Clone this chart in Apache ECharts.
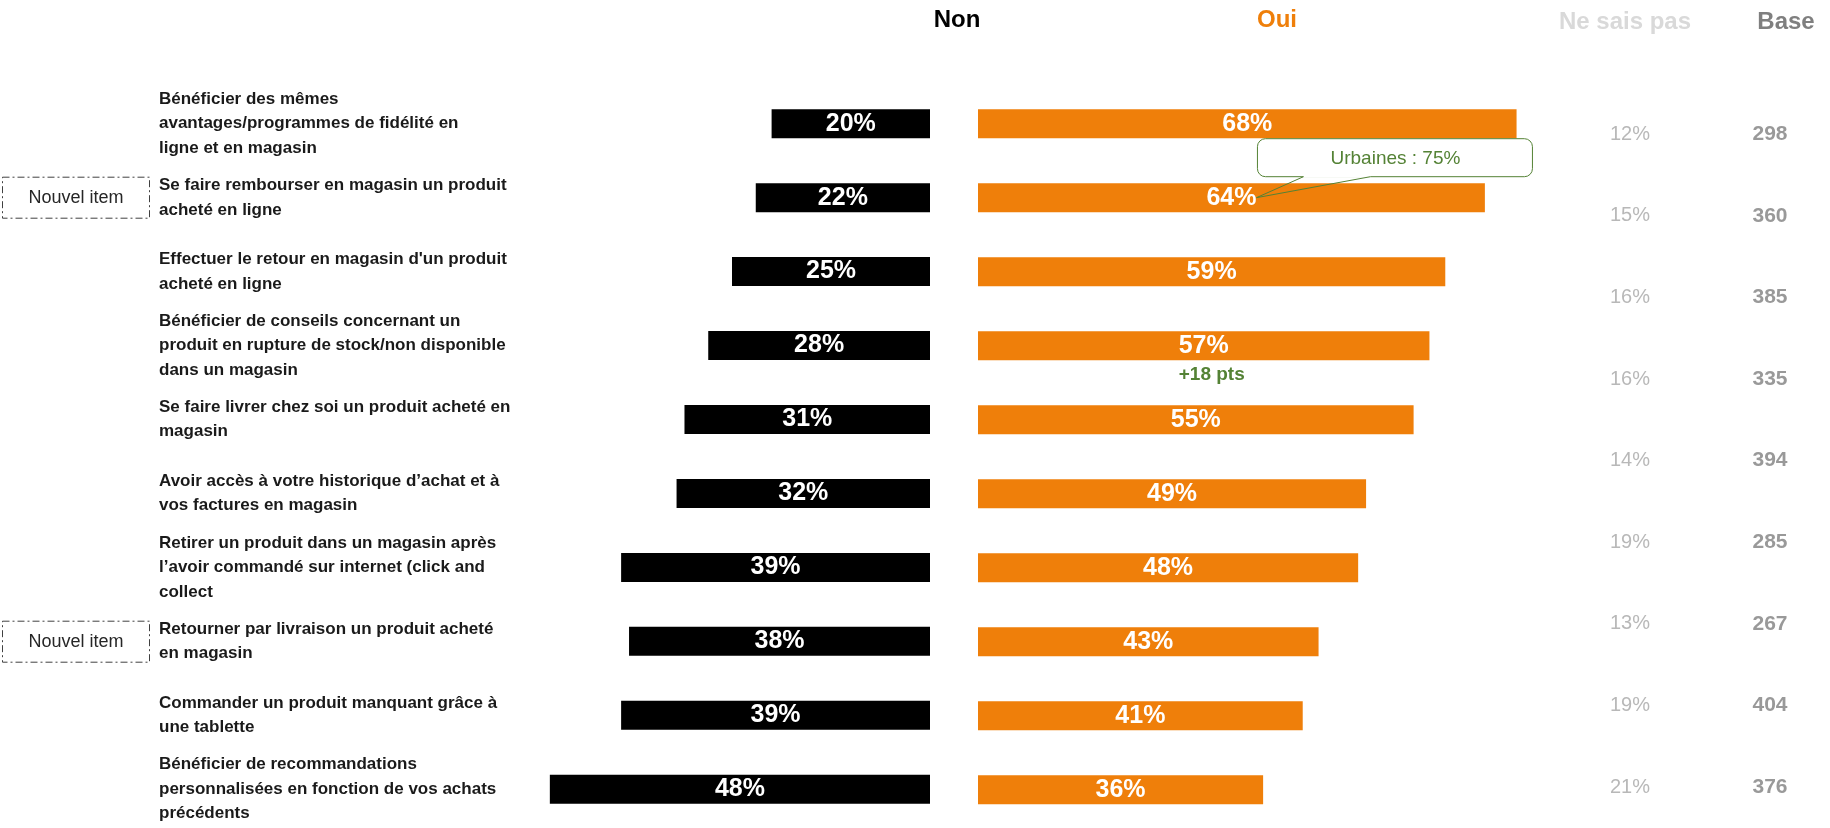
<!DOCTYPE html>
<html><head><meta charset="utf-8">
<script src="https://cdn.jsdelivr.net/npm/echarts@6/dist/echarts.min.js"></script>
<style>html,body{margin:0;padding:0;background:#fff}#c{width:1830px;height:828px}</style>
</head><body><div id="c"></div>
<script>
const categories = [
  "Bénéficier des mêmes\navantages/programmes de fidélité en\nligne et en magasin",
  "Se faire rembourser en magasin un produit\nacheté en ligne",
  "Effectuer le retour en magasin d'un produit\nacheté en ligne",
  "Bénéficier de conseils concernant un\nproduit en rupture de stock/non disponible\ndans un magasin",
  "Se faire livrer chez soi un produit acheté en\nmagasin",
  "Avoir accès à votre historique d’achat et à\nvos factures en magasin",
  "Retirer un produit dans un magasin après\nl’avoir commandé sur internet (click and\ncollect",
  "Retourner par livraison un produit acheté\nen magasin",
  "Commander un produit manquant grâce à\nune tablette",
  "Bénéficier de recommandations\npersonnalisées en fonction de vos achats\nprécédents"
];
const nonValues = [20, 22, 25, 28, 31, 32, 39, 38, 39, 48];
const ouiValues = [68, 64, 59, 57, 55, 49, 48, 43, 41, 36];
const nspValues = [12, 15, 16, 16, 14, 19, 13, 19, 21];
const baseValues = [298, 360, 385, 335, 394, 285, 267, 404, 376];
const headers = ["Non", "Oui", "Ne sais pas", "Base"];
const newItemRows = [1, 7];
const newItemLabel = "Nouvel item";
const calloutRow = 1, calloutText = "Urbaines : 75%";
const deltaRow = 3, deltaText = "+18 pts";

const FONT = '"Liberation Sans", Arial, sans-serif';
const ORANGE = '#EF7F0A';
const GREEN = '#548235';
const PX = 7.92;
const nonMax = 60, ouiMax = 80;
const nonRight = 930, ouiLeft = 978;
const rowTop = 86.7, rowBand = 74;
const labelLeft = 159;

const chart = echarts.init(document.getElementById('c'));
const nonLeft = nonRight - nonMax * PX;
const barLabel = {show: true, position: 'inside', formatter: '{c}%', color: '#fff', fontSize: 25, fontWeight: 'bold', fontFamily: FONT};
const option = {
  animation: false,
  textStyle: {fontFamily: FONT},
  grid: [
    {left: nonLeft, width: nonMax * PX, top: rowTop, height: rowBand * categories.length},
    {left: ouiLeft, width: ouiMax * PX, top: rowTop, height: rowBand * categories.length},
    {left: 1630, width: 140, top: 93.4, height: 83.1 * nspValues.length}
  ],
  xAxis: [
    {gridIndex: 0, type: 'value', min: 0, max: nonMax, inverse: true, show: false},
    {gridIndex: 1, type: 'value', min: 0, max: ouiMax, show: false},
    {gridIndex: 2, type: 'value', min: 0, max: 1, show: false}
  ],
  yAxis: [
    {gridIndex: 0, type: 'category', data: categories, inverse: true, position: 'left',
     axisLine: {show: false, onZero: false}, axisTick: {show: false}, splitLine: {show: false},
     axisLabel: {align: 'left', margin: nonLeft - labelLeft, fontSize: 17, fontWeight: 'bold',
       color: '#1a1a1a', lineHeight: 24.5, padding: [4, 0, 0, 0], fontFamily: FONT}},
    {gridIndex: 1, type: 'category', data: categories, inverse: true, show: false},
    {gridIndex: 2, type: 'value', min: -0.5, max: nspValues.length - 0.5, inverse: true, show: false}
  ],
  series: [
    {type: 'bar', xAxisIndex: 0, yAxisIndex: 0, data: nonValues, barWidth: 29,
     itemStyle: {color: '#000'}, label: barLabel},
    {type: 'bar', xAxisIndex: 1, yAxisIndex: 1, data: ouiValues, barWidth: 29,
     itemStyle: {color: ORANGE}, label: barLabel},
    {type: 'scatter', xAxisIndex: 2, yAxisIndex: 2, symbolSize: 1, itemStyle: {color: 'rgba(0,0,0,0)'},
     data: nspValues.map((v, i) => [0, i, v]),
     label: {show: true, position: 'inside', formatter: p => p.value[2] + '%', color: '#a6a6a6', fontSize: 20, fontFamily: FONT}},
    {type: 'scatter', xAxisIndex: 2, yAxisIndex: 2, symbolSize: 1, itemStyle: {color: 'rgba(0,0,0,0)'},
     data: baseValues.map((v, i) => [1, i, v]),
     label: {show: true, position: 'inside', formatter: p => String(p.value[2]), color: '#7f7f7f', fontSize: 21, fontWeight: 'bold', fontFamily: FONT}}
  ]
};
chart.setOption(option);

const yRow = i => chart.convertToPixel({gridIndex: 1}, [0, i])[1];
const xOui = v => chart.convertToPixel({gridIndex: 1}, [v, 0])[0];
const txt = (x, y, text, fill, size, weight) => ({
  type: 'text', x: x, y: y, silent: true, z: 110,
  style: {text: text, fill: fill, font: (weight || 'normal') + ' ' + size + 'px ' + FONT,
    align: 'center', verticalAlign: 'middle', textAlign: 'center', textVerticalAlign: 'middle'}
});
const headerPos = [[957, 20], [1277, 20], [1625, 22], [1786, 22]];
const headerColors = ['#000', ORANGE, '#d9d9d9', '#7f7f7f'];
const graphics = headers.map((h, i) => txt(headerPos[i][0], headerPos[i][1], h, headerColors[i], 24, 'bold'));

newItemRows.forEach(r => {
  const cy = yRow(r);
  graphics.push({type: 'rect', z: 100, shape: {x: 2.5, y: cy - 20.5, width: 147, height: 41},
    style: {fill: '#fff', stroke: '#404040', lineWidth: 1, lineDash: [7, 3, 2, 3]}});
  graphics.push(txt(76, cy, newItemLabel, '#262626', 18));
});

// callout
const tx = xOui(ouiValues[calloutRow] / 2) + 25, ty = yRow(calloutRow);
const bx = tx + 1, by = ty - 59, bw = 275, bh = 38;
graphics.push({type: 'rect', z: 100, shape: {x: bx, y: by, width: bw, height: bh, r: 8},
  style: {fill: '#fff', stroke: GREEN, lineWidth: 1}});
graphics.push({type: 'line', z: 101, shape: {x1: tx + 47, y1: by + bh, x2: tx + 114, y2: by + bh},
  style: {stroke: '#fff', lineWidth: 2}});
graphics.push({type: 'polyline', z: 102, shape: {points: [[tx + 47, by + bh], [tx, ty], [tx + 114, by + bh]]},
  style: {stroke: GREEN, fill: null, lineWidth: 1}});
graphics.push(txt(bx + 138, by + 20, calloutText, GREEN, 19));

// delta
graphics.push(txt(xOui(ouiValues[deltaRow] / 2) + 8, yRow(deltaRow) + 29, deltaText, GREEN, 19, 'bold'));

chart.setOption({graphic: graphics});
</script>
</body></html>
